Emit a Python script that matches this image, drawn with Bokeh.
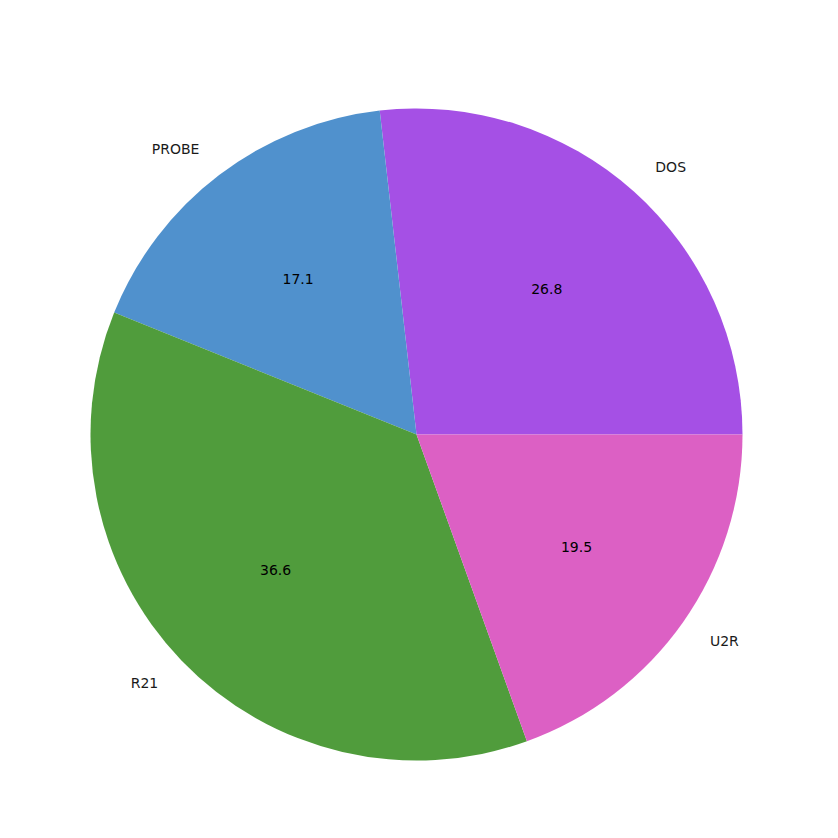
import numpy as np
from bokeh.plotting import figure
from bokeh.models import ColumnDataSource
from bokeh.core.properties import value
from bokeh.embed import file_html
from bokeh.resources import INLINE

categories = ["DOS", "PROBE", "R21", "U2R"]
values = [26.8, 17.1, 36.6, 19.5]
colors = ["#a550e5", "#5091cd", "#509c3c", "#dc60c4"]

W = H = 822
cx, cy = 416, 434  # pie centre in plot pixels
R = 326

p = figure(width=W, height=H, output_backend="svg", toolbar_location=None,
           x_range=(-cx, W - cx), y_range=(-(H - cy), cy), min_border=0,
           background_fill_color="white", border_fill_color="white")
p.axis.visible = False
p.grid.visible = False
p.outline_line_color = None

vals = np.array(values, dtype=float)
frac = vals / vals.sum()
ends = np.cumsum(frac) * 2 * np.pi
starts = np.concatenate([[0.0], ends[:-1]])
mids = (starts + ends) / 2

src = ColumnDataSource(dict(start=starts, end=ends, color=colors,
                            cat=categories, val=values))
p.wedge(x=0, y=0, radius=R, start_angle="start", end_angle="end",
        fill_color="color", line_color=None, source=src)

lx = 1.1 * R * np.cos(mids)
ly = 1.1 * R * np.sin(mids)
align = ["left" if c > 0 else "right" for c in np.cos(mids)]
lsrc = ColumnDataSource(dict(x=lx, y=ly, t=categories, a=align))
p.text(x="x", y="y", text="t", text_align="a", text_baseline="middle",
       text_font=value("DejaVu Sans"), text_font_size="14px",
       text_color="#1a1a1a", source=lsrc)

px = 0.6 * R * np.cos(mids)
py = 0.6 * R * np.sin(mids)
ptxt = ["%.1f" % v for v in values]
psrc = ColumnDataSource(dict(x=px, y=py, t=ptxt))
p.text(x="x", y="y", text="t", text_align="center", text_baseline="middle",
       text_font=value("DejaVu Sans"), text_font_size="14px",
       text_color="black", source=psrc)

open("out.html", "w").write(file_html(p, INLINE))
